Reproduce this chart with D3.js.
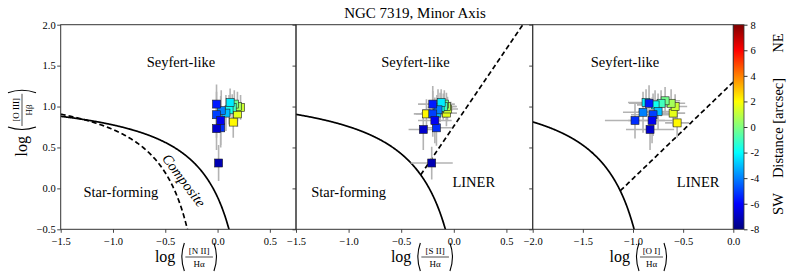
<!DOCTYPE html>
<html><head><meta charset="utf-8">
<script src="https://cdn.jsdelivr.net/npm/d3@7"></script>
<style>
body{margin:0;background:#fff;}
svg{display:block;font-family:"Liberation Serif","Times New Roman",serif;}
svg text{font-family:"Liberation Serif","Times New Roman",serif !important;}
</style></head>
<body><svg id="c" width="793" height="280"></svg>
<script>
// ---------- data ----------
const title = "NGC 7319, Minor Axis";
const yTicks = [-0.5, 0, 0.5, 1.0, 1.5, 2.0];
const xTicksA = [-1.5, -1.0, -0.5, 0.0, 0.5];
const xTicksC = [-2.0, -1.5, -1.0, -0.5, 0.0];
const cbTicks = [-8, -6, -4, -2, 0, 2, 4, 6, 8];
// distance along minor axis [arcsec] for each region
const dist = [2.1, 1.6, 1.2, 0.6, -0.2, -1.0, -1.8, -2.3, -3, -4, -5, -5.3, -5.6, -6.2, -6.8, -7.2];
// [N II]/Ha panel
const n2x  = [0.15, 0.19, 0.22, 0.19, 0.16, 0.14, 0.11, 0.12, 0.08, 0.035, -0.01, 0.03, -0.01, 0.03, -0.01, 0.01];
const n2y  = [0.81, 0.91, 0.99, 1.00, 1.03, 0.99, 0.96, 1.05, 0.92, 0.95, 0.90, 0.74, 1.03, 0.83, 0.73, 0.31];
const n2xe = [0.03, 0.03, 0.03, 0.03, 0.03, 0.03, 0.03, 0.03, 0.03, 0.03, 0.02, 0.03, 0.02, 0.03, 0.03, 0.03];
const n2ye = [0.19, 0.16, 0.15, 0.18, 0.17, 0.16, 0.18, 0.17, 0.22, 0.25, 0.28, 0.24, 0.24, 0.30, 0.26, 0.22];
// [S II]/Ha panel
const s2x  = [-0.26, -0.07, -0.06, -0.07, -0.09, -0.10, -0.13, -0.12, -0.16, -0.15, -0.20, -0.165, -0.20, -0.18, -0.29, -0.21];
const s2y  = [0.91, 0.92, 0.97, 1.00, 1.03, 1.00, 0.99, 1.05, 0.92, 0.96, 0.91, 0.74, 1.03, 0.83, 0.72, 0.31];
const s2xe = [0.12, 0.10, 0.10, 0.10, 0.10, 0.12, 0.12, 0.10, 0.15, 0.14, 0.16, 0.15, 0.14, 0.16, 0.14, 0.20];
const s2ye = [0.18, 0.16, 0.15, 0.17, 0.17, 0.16, 0.18, 0.16, 0.22, 0.25, 0.28, 0.22, 0.22, 0.28, 0.25, 0.20];
// [O I]/Ha panel (no [O I] for the outermost SW region)
const o1x  = [-0.56, -0.60, -0.58, -0.62, -0.68, -0.72, -0.78, -0.87, -0.75, -0.90, -0.80, -0.98, -0.84, -0.81, -0.83, null];
const o1y  = [0.80, 0.92, 1.00, 1.04, 1.07, 1.04, 1.02, 1.05, 0.94, 0.93, 0.90, 0.83, 1.04, 0.83, 0.72, null];
const o1xe = [0.12, 0.12, 0.12, 0.14, 0.15, 0.15, 0.18, 0.18, 0.20, 0.20, 0.22, 0.30, 0.20, 0.24, 0.24, 0];
const o1ye = [0.18, 0.16, 0.15, 0.17, 0.17, 0.16, 0.18, 0.16, 0.22, 0.25, 0.26, 0.22, 0.22, 0.28, 0.25, 0];

// ---------- helpers ----------
function jet(v){
  const t = (v + 8) / 16;
  const c = a => Math.max(0, Math.min(1, a));
  const r = c(1.5 - Math.abs(4*t - 3)), g = c(1.5 - Math.abs(4*t - 2)), b = c(1.5 - Math.abs(4*t - 1));
  return d3.rgb(r*255, g*255, b*255).formatHex();
}
const fmt = d3.format(".1f");
const svg = d3.select("#c");
const Y = d3.scaleLinear().domain([-0.5, 2]).range([229.3, 24.7]);

const panels = [
  {x0:60.7, x1:296, dom:[-1.5, 0.75], ticks:xTicksA, xs:n2x, ys:n2y, xe:n2xe, ye:n2ye, num:"[N II]"},
  {x0:296, x1:532.7, dom:[-1.5, 0.75], ticks:xTicksA, xs:s2x, ys:s2y, xe:s2xe, ye:s2ye, num:"[S II]"},
  {x0:532.7, x1:733.3, dom:[-2, 0], ticks:xTicksC, xs:o1x, ys:o1y, xe:o1xe, ye:o1ye, num:"[O I]"}
];

function mathLabel(g, cx, cy, num, den, rot){
  const grp = g.append("g").attr("transform", `translate(${cx},${cy}) rotate(${rot})`);
  grp.append("text").attr("x", -9).attr("y", 5).attr("text-anchor", "end")
     .attr("font-size", 16).text("log");
  const w = Math.max(num.length * 4.6, 14);
  const L = -4, R = L + w + 10;
  grp.append("path").attr("d", `M${L+4},-14 Q${L-1},0 ${L+4},14`).attr("fill","none").attr("stroke","#000").attr("stroke-width",1.1);
  grp.append("path").attr("d", `M${R-4},-14 Q${R+1},0 ${R-4},14`).attr("fill","none").attr("stroke","#000").attr("stroke-width",1.1);
  const mid = (L + R) / 2;
  grp.append("text").attr("x", mid).attr("y", -3).attr("text-anchor","middle").attr("font-size", 9).text(num);
  grp.append("line").attr("x1", mid - w/2).attr("x2", mid + w/2).attr("y1", 0).attr("y2", 0).attr("stroke","#000").attr("stroke-width",0.7);
  grp.append("text").attr("x", mid).attr("y", 9.5).attr("text-anchor","middle").attr("font-size", 9).text(den);
}

// ---------- panels ----------
panels.forEach((p, i) => {
  const X = d3.scaleLinear().domain(p.dom).range([p.x0, p.x1]);
  p.X = X;
  const g = svg.append("g");
  const clipId = "clip" + i;
  svg.append("clipPath").attr("id", clipId).append("rect")
     .attr("x", p.x0).attr("y", Y(2)).attr("width", p.x1 - p.x0).attr("height", Y(-0.5) - Y(2));
  const pl = g.append("g").attr("clip-path", `url(#${clipId})`);

  // demarcation curves
  const line = d3.line().x(d => X(d[0])).y(d => Y(d[1]));
  function curve(f, xa, xb, dashed){
    const pts = d3.range(0, 401).map(k => { const x = xa + (xb - xa) * k / 400; return [x, f(x)]; })
                  .filter(d => d[1] > -0.7);
    pl.append("path").attr("d", line(pts)).attr("fill","none").attr("stroke","#000")
      .attr("stroke-width", 1.7).attr("stroke-dasharray", dashed ? "5,3" : null);
  }
  if (i === 0){
    curve(x => 0.61/(x - 0.47) + 1.19, -1.5, 0.2, false);
    curve(x => 0.61/(x - 0.05) + 1.30, -1.5, -0.25, true);
  } else if (i === 1){
    curve(x => 0.72/(x - 0.32) + 1.30, -1.5, 0.0, false);
    curve(x => 1.89*x + 0.76, -0.315, 0.7, true);
  } else {
    curve(x => 0.73/(x + 0.59) + 1.33, -2.0, -0.9, false);
    curve(x => 1.18*x + 1.30, -1.127, 0.0, true);
  }

  // error bars
  const idx = d3.range(dist.length).filter(k => p.xs[k] !== null);
  idx.forEach(k => {
    pl.append("line").attr("x1", X(p.xs[k] - p.xe[k])).attr("x2", X(p.xs[k] + p.xe[k]))
      .attr("y1", Y(p.ys[k])).attr("y2", Y(p.ys[k])).attr("stroke", "#b3b3b3").attr("stroke-width", 1.6);
    pl.append("line").attr("x1", X(p.xs[k])).attr("x2", X(p.xs[k]))
      .attr("y1", Y(p.ys[k] - p.ye[k])).attr("y2", Y(p.ys[k] + p.ye[k])).attr("stroke", "#b3b3b3").attr("stroke-width", 1.6);
  });
  // markers
  const s = 8;
  idx.forEach(k => {
    pl.append("rect").attr("x", X(p.xs[k]) - s/2).attr("y", Y(p.ys[k]) - s/2)
      .attr("width", s).attr("height", s).attr("fill", jet(dist[k]))
      .attr("stroke", "#222").attr("stroke-width", 0.6);
  });

  // axes
  const ax = g.append("g").attr("transform", `translate(0,${Y(-0.5)})`)
    .call(d3.axisBottom(X).tickValues(p.ticks).tickFormat(fmt).tickSize(3.5).tickPadding(5));
  const ay = g.append("g").attr("transform", `translate(${p.x0},0)`)
    .call(d3.axisLeft(Y).tickValues(yTicks).tickFormat(i === 0 ? fmt : () => "").tickSize(3.5).tickPadding(1.5));
  [ax, ay].forEach(a => {
    a.attr("font-family", null);
    a.select(".domain").remove();
    a.selectAll("line").attr("stroke", "#333").attr("stroke-width", 0.9);
    a.selectAll("text").attr("font-size", 10.5).attr("fill", "#000");
  });
  g.append("rect").attr("x", p.x0).attr("y", Y(2)).attr("width", p.x1 - p.x0).attr("height", Y(-0.5) - Y(2))
    .attr("fill", "none").attr("stroke", "#333").attr("stroke-width", 1);

  mathLabel(svg, (p.x0 + p.x1)/2 + 6, 257, p.num, "H\u03b1", 0);
});

// region labels
const lab = (x, y, t) => svg.append("text").attr("x", x).attr("y", y).attr("text-anchor", "middle")
    .attr("font-size", 14.5).text(t);
lab(panels[0].X(-0.35), 66.5, "Seyfert-like");
lab(panels[0].X(-0.925), 197, "Star-forming");
lab(panels[1].X(-0.365), 66.5, "Seyfert-like");
lab(panels[1].X(-1.0), 197, "Star-forming");
lab(panels[1].X(0.19), 186.5, "LINER");
lab(panels[2].X(-1.08), 66.5, "Seyfert-like");
lab(panels[2].X(-0.35), 186.5, "LINER");
svg.append("text").attr("font-size", 14.5).attr("font-style", "italic").attr("text-anchor", "middle")
   .attr("transform", `translate(${panels[0].X(-0.32)},${Y(0.1)}) rotate(53)`).attr("dy", "0.35em").text("Composite");

// title
svg.append("text").attr("x", 415).attr("y", 18).attr("text-anchor", "middle").attr("font-size", 15).text(title);

// y label
mathLabel(svg, 22, 127, "[O III]", "H\u03b2", -90);

// ---------- colorbar ----------
const cbX0 = 733.3, cbW = 10.7;
const CB = d3.scaleLinear().domain([-8, 8]).range([229.3, 24.7]);
const grad = svg.append("defs").append("linearGradient").attr("id", "jet")
  .attr("x1", 0).attr("y1", 1).attr("x2", 0).attr("y2", 0);
d3.range(0, 65).forEach(k => {
  const v = -8 + 16 * k / 64;
  grad.append("stop").attr("offset", k / 64).attr("stop-color", jet(v));
});
svg.append("rect").attr("x", cbX0).attr("y", CB(8)).attr("width", cbW).attr("height", CB(-8) - CB(8))
   .attr("fill", "url(#jet)").attr("stroke", "#333").attr("stroke-width", 0.8);
const cba = svg.append("g").attr("transform", `translate(${cbX0 + cbW},0)`)
  .call(d3.axisRight(CB).tickValues(cbTicks).tickFormat(d => String(d)).tickSize(3.5).tickPadding(3));
cba.attr("font-family", null);
cba.select(".domain").remove();
cba.selectAll("line").attr("stroke", "#333");
cba.selectAll("text").attr("font-size", 10.5).attr("fill", "#000");
const rl = (y, t) => svg.append("text").attr("transform", `translate(783,${y}) rotate(-90)`)
  .attr("text-anchor", "middle").attr("font-size", 14.5).text(t);
rl(128, "Distance [arcsec]");
rl(43, "NE");
rl(204, "SW");
</script></body></html>
